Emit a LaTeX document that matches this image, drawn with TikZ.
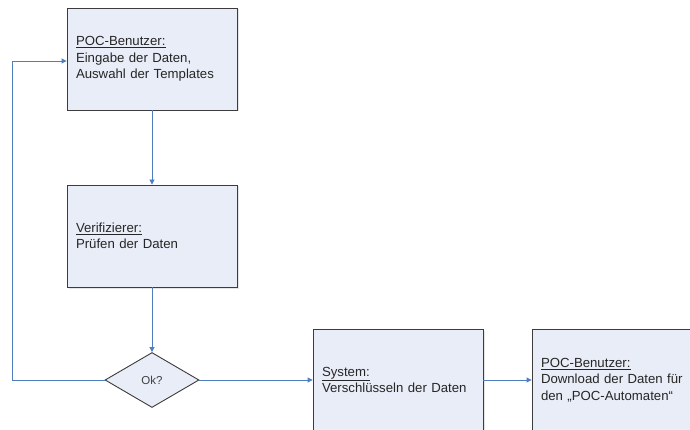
\documentclass[tikz,border=0pt]{standalone}
\usepackage{fontspec}
\setmainfont{Liberation Sans}
\usetikzlibrary{arrows.meta,shapes.geometric,shadows}
\definecolor{boxfill}{HTML}{E9EDF7}
\definecolor{boxline}{HTML}{3C3C3C}
\definecolor{conn}{HTML}{4F7EC0}
\tikzset{
  procbox/.style={draw=boxline, fill=boxfill, line width=0.9pt, rectangle,
    minimum width=170pt, minimum height=102pt, text width=152pt, align=left,
    inner xsep=9pt, font=\fontsize{13.2}{16.5}\selectfont, text=black!85,
    drop shadow={shadow xshift=1.5pt, shadow yshift=-1.5pt, opacity=0.2}},
  decision/.style={draw=boxline, fill=boxfill, line width=0.9pt, diamond,
    minimum width=94pt, minimum height=55pt, inner sep=0pt, aspect=1.7,
    font=\fontsize{11.5}{13}\selectfont, text=black!75},
  flow/.style={draw=conn, line width=0.9pt, -{Triangle[length=5pt,width=5pt]}}
}
\begin{document}
\begin{tikzpicture}[x=1pt,y=-1pt]
\useasboundingbox (0,0) rectangle (690,430);
\clip (0,0) rectangle (690,430);
\fill[white] (0,0) rectangle (690,430);
\node[procbox] (b1) at (152,59) {\underline{POC-Benutzer:}\\Eingabe der Daten,\\Auswahl der Templates};
\node[procbox] (b2) at (152,236) {\underline{Verifizierer:}\\Prüfen der Daten};
\node[decision] (d) at (152,380) {Ok?};
\node[procbox] (b3) at (398,380) {\underline{System:}\\Verschlüsseln der Daten};
\node[procbox, minimum width=180pt, text width=162pt] (b4) at (622,380) {\underline{POC-Benutzer:}\\Download der Daten für\\den „POC-Automaten“};
\coordinate (lx) at (12,380);
\coordinate (ly) at (12,61);
\draw[flow] (b1.south) -- (b2.north);
\draw[flow] (b2.south) -- (d.north);
\draw[flow] (d.west) -- (lx) -- (ly) -- (ly -| b1.west);
\draw[flow] (d.east) -- (b3.west);
\draw[flow] (b3.east) -- (b4.west);
\end{tikzpicture}
\end{document}
